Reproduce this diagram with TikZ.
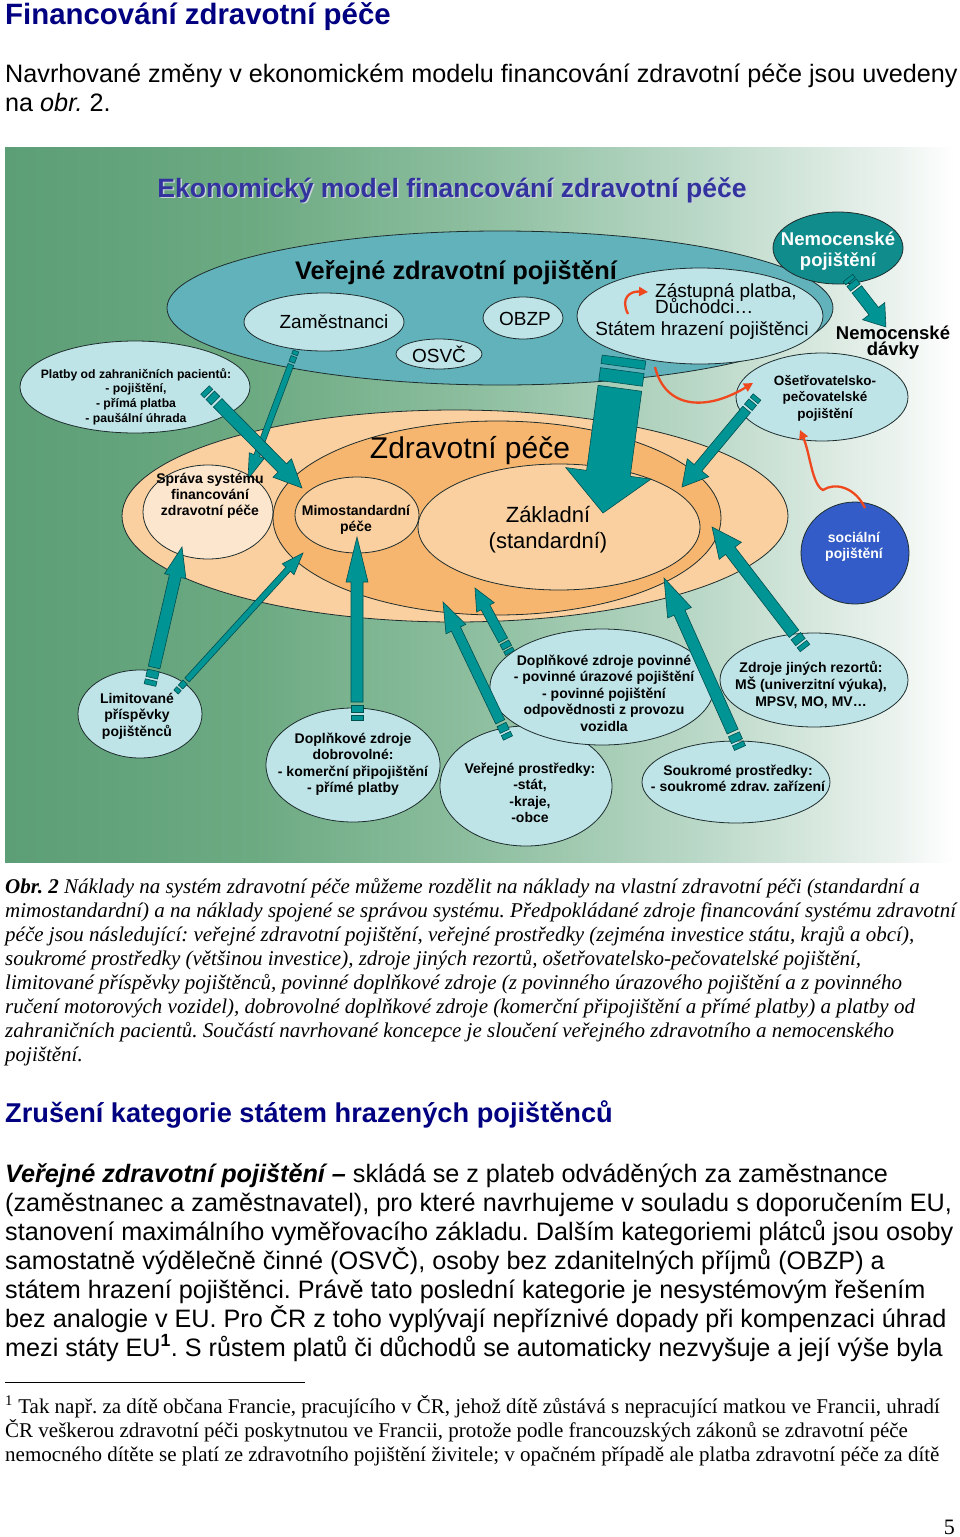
\documentclass[tikz,border=0pt]{standalone}
\usepackage{fontspec}
\setmainfont{Liberation Sans}
\newfontfamily\tnr{Liberation Serif}
\usetikzlibrary{shapes.geometric,calc,arrows.meta}
\frenchspacing
\definecolor{navy}{RGB}{0,0,128}
\definecolor{bgA}{RGB}{92,158,118}
\definecolor{bgB}{RGB}{108,170,130}
\definecolor{bgC}{RGB}{142,191,160}
\definecolor{bgD}{RGB}{186,216,199}
\definecolor{bgE}{RGB}{236,243,239}
\definecolor{vzpc}{RGB}{98,178,188}
\definecolor{lblue}{RGB}{190,228,232}
\definecolor{teal2}{RGB}{0,148,148}
\definecolor{tealdk}{RGB}{0,80,80}
\definecolor{nemc}{RGB}{16,140,140}
\definecolor{peach}{RGB}{250,208,160}
\definecolor{orng}{RGB}{246,182,112}
\definecolor{cream}{RGB}{252,230,205}
\definecolor{socc}{RGB}{52,92,200}
\definecolor{redarr}{RGB}{240,72,30}
\definecolor{ttl}{RGB}{51,51,160}
\definecolor{ttlsh}{RGB}{200,210,215}
\definecolor{outl}{RGB}{30,45,45}
\pgfdeclarehorizontalshading{bgshade}{100bp}{color(0bp)=(bgA); color(25bp)=(bgA); color(38bp)=(bgB); color(50bp)=(bgC); color(61.6bp)=(bgD); color(72bp)=(bgE); color(75bp)=(white); color(100bp)=(white)}
\newcommand\ml[1]{\begin{tabular}[t]{@{}c@{}}#1\end{tabular}}
\newcommand\blkarrow[6]{%
  \path let \p1=(#1), \p2=(#2), \n1={atan2(\y2-\y1,\x2-\x1)}, \n2={veclen(\x2-\x1,\y2-\y1)} in
    \pgfextra{\xdef\BAang{\n1}\xdef\BAlen{\n2}\xdef\BAx{\x1}\xdef\BAy{\y1}};
  \begin{scope}[shift={(\BAx,\BAy)}, rotate=\BAang]
    \filldraw[blk] (0,-#3) rectangle (#6,#3);
    \filldraw[blk] ({1.5*#6},-#3) rectangle ({3*#6},#3);
    \filldraw[blk] ({3.6*#6},-#3) -- ({\BAlen-#5},-#3) -- ({\BAlen-#5},-#4) -- (\BAlen,0) -- ({\BAlen-#5},#4) -- ({\BAlen-#5},#3) -- ({3.6*#6},#3) -- cycle;
  \end{scope}}
\begin{document}
\begin{tikzpicture}[x=1pt,y=-1pt,
  ell/.style={ellipse, draw=outl, line width=0.8pt, inner sep=0pt, outer sep=0pt},
  blk/.style={fill=teal2, draw=tealdk, line width=0.6pt},
  redarrow/.style={draw=redarr, line width=2.3pt, -{Triangle[length=9pt,width=9pt]}},
  tb/.style={font=\fontsize{14}{16.5}\selectfont\bfseries, inner sep=0pt, anchor=base},
  tr/.style={font=\fontsize{19}{22}\selectfont, inner sep=0pt, anchor=base},
  line/.style={inner sep=0pt, anchor=base west}]
\useasboundingbox (0,0) rectangle (960,1537);
\fill[white] (0,0) rectangle (960,1537);

% ---------- top text ----------
\node[line, font=\fontsize{29.4}{34}\selectfont\bfseries, text=navy] (h1) at (5,24) {Financování zdravotní péče};
\node[line, font=\fontsize{25.2}{29}\selectfont] (p1) at (5,82) {Navrhované změny v ekonomickém modelu financování zdravotní péče jsou uvedeny};
\node[line, font=\fontsize{25.2}{29}\selectfont] (p2) at (5,111) {na \textit{obr.} 2.};

% ---------- diagram background ----------
\shade[shading=bgshade] (5,147) rectangle (955,862);
\node[inner sep=0pt, anchor=base, font=\fontsize{26.5}{30}\selectfont\bfseries, text=ttlsh] (dtsh) at (453.5,198.5) {Ekonomický model financování zdravotní péče};
\node[inner sep=0pt, anchor=base, font=\fontsize{26.5}{30}\selectfont\bfseries, text=ttl] (dt) at (452,197) {Ekonomický model financování zdravotní péče};

% ---------- ellipses ----------
\node[ell, fill=vzpc, minimum width=666pt, minimum height=154pt] (vzp) at (500,308) {};
\node[ell, fill=lblue, minimum width=160pt, minimum height=58pt] (zam) at (324,322) {};
\node[ell, fill=lblue, minimum width=86pt, minimum height=30pt] (osvc) at (439,354) {};
\node[ell, fill=lblue, minimum width=80pt, minimum height=42pt] (obzp) at (523,318) {};
\node[ell, fill=lblue, minimum width=246pt, minimum height=96pt] (stat) at (700,316) {};
\node[ell, fill=lblue, minimum width=230pt, minimum height=92pt] (platby) at (135,387) {};
\node[ell, fill=nemc, minimum width=130pt, minimum height=72pt] (nemp) at (838,248) {};

\node[ell, fill=peach, minimum width=666pt, minimum height=212pt] (zp) at (455,516) {};
\node[ell, fill=orng, minimum width=448pt, minimum height=194pt] (zpin) at (497,518) {};
\node[ell, fill=cream, minimum width=130pt, minimum height=94pt] (sprava) at (208,512) {};
\node[ell, fill=peach, minimum width=124pt, minimum height=76pt] (mimo) at (357,515) {};
\node[ell, fill=peach, minimum width=282pt, minimum height=126pt] (zakl) at (559,527) {};

\node[ell, fill=lblue, minimum width=172pt, minimum height=88pt] (osetr) at (822,397) {};
\node[ell, fill=socc, minimum width=108pt, minimum height=102pt] (soc) at (855,553) {};

\node[ell, fill=lblue, minimum width=124pt, minimum height=88pt] (limit) at (140,714) {};
\node[ell, fill=lblue, minimum width=174pt, minimum height=114pt] (dobro) at (353,765) {};
\node[ell, fill=lblue, minimum width=172pt, minimum height=120pt] (verej) at (526,786) {};
\node[ell, fill=lblue, minimum width=224pt, minimum height=116pt] (povin) at (602,687) {};
\node[ell, fill=lblue, minimum width=188pt, minimum height=94pt] (jinych) at (814,680) {};
\node[ell, fill=lblue, minimum width=188pt, minimum height=82pt] (soukr) at (736,782) {};

\node[tb, font=\fontsize{18.5}{16}\selectfont\bfseries] (davky) at (893,339) {\ml{Nemocenské\\[-1.5pt]dávky}};

% ---------- block arrows ----------
\blkarrow{[shift={(-28,29)}]zam.center}{[shift={(40,-33)}]sprava.center}{3}{8}{25}{4}
\blkarrow{[shift={(70,3)}]platby.center}{[shift={(-55,-27)}]mimo.center}{6}{13}{28}{5}
\blkarrow{[shift={(-76,42)}]stat.center}{[shift={(44,-14)}]zakl.center}{22}{43}{40}{8.5}
\blkarrow{[shift={(-65,0)}]osetr.center}{[shift={(185,-31)}]zpin.center}{5}{14}{25}{4.5}
\blkarrow{[shift={(10,-29)}]limit.center}{[shift={(-26,35)}]sprava.center}{6}{11}{30}{5}
\blkarrow{[shift={(36,-22)}]limit.center}{[shift={(-54,38)}]mimo.center}{3}{8}{22}{4.5}
\blkarrow{[shift={(4,-45)}]dobro.center}{[shift={(0,22)}]mimo.center}{6}{11}{45}{5}
\blkarrow{[shift={(-18,-48)}]verej.center}{[shift={(-12,86)}]zp.center}{5}{11}{30}{5}
\blkarrow{[shift={(-92,-34)}]povin.center}{[shift={(-22,70)}]zpin.center}{5}{10}{22}{4}
\blkarrow{[shift={(4,-34)}]soukr.center}{[shift={(167,60)}]zpin.center}{6}{13}{38}{5}
\blkarrow{[shift={(-9,-32)}]jinych.center}{[shift={(215,9)}]zpin.center}{6}{14}{30}{5}
\blkarrow{[shift={(10,30)}]nemp.center}{[shift={(-7,-16)}]davky.center}{6}{14}{20}{4}

% ---------- red arrows ----------
\draw[redarrow] ([shift={(-72,-2)}]stat.center) .. controls ([shift={(-80,-18)}]stat.center) and ([shift={(-70,-25)}]stat.center) .. ([shift={(-52,-24)}]stat.center);
\draw[redarrow] ([shift={(-45,51)}]stat.center) .. controls ([shift={(-35,92)}]stat.center) and ([shift={(5,96)}]stat.center) .. ([shift={(-69,-14)}]osetr.center);
\draw[redarrow] ([shift={(10,-45)}]soc.center) .. controls ([shift={(0,-66)}]soc.center) and ([shift={(-20,-71)}]soc.center) .. ([shift={(-32,-63)}]soc.center) .. controls ([shift={(-43,-68)}]soc.center) and ([shift={(-45,-100)}]soc.center) .. ([shift={(-22,33)}]osetr.center);

% ---------- texts in diagram ----------
\node[inner sep=0pt, anchor=base, font=\fontsize{25.4}{30}\selectfont\bfseries] (tvzp) at (456,279) {Veřejné zdravotní pojištění};
\node[tr] (tzam) at (334,328) {Zaměstnanci};
\node[tr] (tosvc) at (439,362) {OSVČ};
\node[tr] (tobzp) at (525,325) {OBZP};
\node[tr, anchor=base west] (tstat1) at (655,297) {Zástupná platba,};
\node[tr, anchor=base west] (tstat2) at (655,313) {Důchodci…};
\node[tr] (tstat3) at (702,335) {Státem hrazení pojištěnci};
\node[tb, font=\fontsize{18.5}{21.5}\selectfont\bfseries, text=white] (tnemp) at (838,245) {\ml{Nemocenské\\pojištění}};
\node[tb, font=\fontsize{13.5}{16.5}\selectfont\bfseries] (tosetr) at (825,385) {\ml{Ošetřovatelsko-\\pečovatelské\\pojištění}};
\node[tb, font=\fontsize{12.2}{14.7}\selectfont\bfseries] (tplatby) at (136,378) {\ml{Platby od zahraničních pacientů:\\- pojištění,\\- přímá platba\\- paušální úhrada}};
\node[inner sep=0pt, anchor=base, font=\fontsize{30}{34}\selectfont] (tzp) at (470,458) {Zdravotní péče};
\node[tb] (tsprava) at (210,483) {\ml{Správa systému\\financování\\[-1pt]zdravotní péče}};
\node[tb] (tmimo) at (356,515) {\ml{Mimostandardní\\péče}};
\node[tb, font=\fontsize{22}{26}\selectfont] (tzakl) at (548,522) {\ml{Základní\\(standardní)}};
\node[tb, text=white, font=\fontsize{14}{16}\selectfont\bfseries] (tsoc) at (854,542) {\ml{sociální\\pojištění}};
\node[tb] (tlimit) at (137,703) {\ml{Limitované\\příspěvky\\pojištěnců}};
\node[tb] (tdobro) at (353,743) {\ml{Doplňkové zdroje\\dobrovolné:\\- komerční připojištění\\- přímé platby}};
\node[tb] (tverej) at (530,773) {\ml{Veřejné prostředky:\\-stát,\\-kraje,\\-obce}};
\node[tb] (tpovin) at (604,665) {\ml{Doplňkové zdroje povinné\\- povinné úrazové pojištění\\- povinné pojištění\\odpovědnosti z provozu\\vozidla}};
\node[tb] (tjinych) at (811,672) {\ml{Zdroje jiných rezortů:\\MŠ (univerzitní výuka),\\MPSV, MO, MV…}};
\node[tb] (tsoukr) at (738,775) {\ml{Soukromé prostředky:\\- soukromé zdrav. zařízení}};

% ---------- caption ----------
\begin{scope}[every node/.style={line, font=\tnr\fontsize{21}{24}\selectfont\itshape}]
\node (c1) at (5,893) {\textbf{Obr. 2} Náklady na systém zdravotní péče můžeme rozdělit na náklady na vlastní zdravotní péči (standardní a};
\node (c2) at (5,917) {mimostandardní) a na náklady spojené se správou systému. Předpokládané zdroje financování systému zdravotní};
\node (c3) at (5,941) {péče jsou následující: veřejné zdravotní pojištění, veřejné prostředky (zejména investice státu, krajů a obcí),};
\node (c4) at (5,965) {soukromé prostředky (většinou investice), zdroje jiných rezortů, ošetřovatelsko-pečovatelské pojištění,};
\node (c5) at (5,989) {limitované příspěvky pojištěnců, povinné doplňkové zdroje (z povinného úrazového pojištění a z povinného};
\node (c6) at (5,1013) {ručení motorových vozidel), dobrovolné doplňkové zdroje (komerční připojištění a přímé platby) a platby od};
\node (c7) at (5,1037) {zahraničních pacientů. Součástí navrhované koncepce je sloučení veřejného zdravotního a nemocenského};
\node (c8) at (5,1061) {pojištění.};
\end{scope}

% ---------- section ----------
\node[line, font=\fontsize{27.2}{32}\selectfont\bfseries, text=navy] (h2) at (5,1122) {Zrušení kategorie státem hrazených pojištěnců};
\begin{scope}[every node/.style={line, font=\fontsize{25.2}{29}\selectfont}]
\node (b1) at (5,1182) {\textbf{\textit{Veřejné zdravotní pojištění –}} skládá se z plateb odváděných za zaměstnance};
\node (b2) at (5,1211) {(zaměstnanec a zaměstnavatel), pro které navrhujeme v souladu s doporučením EU,};
\node (b3) at (5,1240) {stanovení maximálního vyměřovacího základu. Dalším kategoriemi plátců jsou osoby};
\node (b4) at (5,1269) {samostatně výdělečně činné (OSVČ), osoby bez zdanitelných příjmů (OBZP) a};
\node (b5) at (5,1298) {státem hrazení pojištěnci. Právě tato poslední kategorie je nesystémovým řešením};
\node (b6) at (5,1327) {bez analogie v EU. Pro ČR z toho vyplývají nepříznivé dopady při kompenzaci úhrad};
\node (b7) at (5,1356) {mezi státy EU\textsuperscript{\textbf{1}}. S růstem platů či důchodů se automaticky nezvyšuje a její výše byla};
\end{scope}

% ---------- footnote ----------
\draw[line width=1pt] (5,1382) -- (305,1382);
\begin{scope}[every node/.style={line, font=\tnr\fontsize{21}{24}\selectfont}]
\node (f1) at (5,1413) {\textsuperscript{1} Tak např. za dítě občana Francie, pracujícího v ČR, jehož dítě zůstává s nepracující matkou ve Francii, uhradí};
\node (f2) at (5,1437) {ČR veškerou zdravotní péči poskytnutou ve Francii, protože podle francouzských zákonů se zdravotní péče};
\node (f3) at (5,1461) {nemocného dítěte se platí ze zdravotního pojištění živitele; v opačném případě ale platba zdravotní péče za dítě};
\end{scope}
\node[inner sep=0pt, anchor=base east, font=\tnr\fontsize{22}{26}\selectfont] (pg) at (955,1534) {5};
\end{tikzpicture}
\end{document}
